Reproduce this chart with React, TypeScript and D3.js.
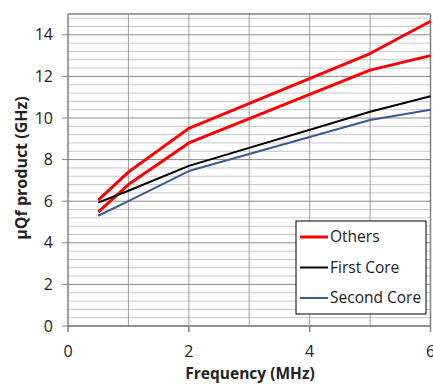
import React from "react";
import * as d3 from "d3";

const freq = [0.5, 1, 2, 5, 6];
const othersUpper = [6.05, 7.4, 9.5, 13.1, 14.65];
const othersLower = [5.48, 6.8, 8.8, 12.3, 13.0];
const firstCore = [5.93, 6.5, 7.7, 10.3, 11.05];
const secondCore = [5.3, 6.0, 7.45, 9.9, 10.4];
const xTicks = [0, 2, 4, 6];
const yTicks = [0, 2, 4, 6, 8, 10, 12, 14];
const legendLabels = ["Others", "First Core", "Second Core"];

const W = 433, H = 384;
const FONT = "'Open Sans', 'Noto Sans', sans-serif";

export default function App() {
  const x = d3.scaleLinear().domain([0, 6]).range([68, 430.5]);
  const y = d3.scaleLinear().domain([0, 15]).range([326, 14]);
  const line = d3.line<[number, number]>().x(d => x(d[0])).y(d => y(d[1]));
  const mk = (vals: number[]) => line(freq.map((f, i) => [f, vals[i]] as [number, number])) || "";

  const minorY = d3.range(0, 15.01, 0.4).filter(v => Math.abs(v / 2 - Math.round(v / 2)) > 1e-6);
  const vLines = d3.range(1, 6, 1);

  const series = [
    { vals: othersUpper, color: "#ff0000", w: 3 },
    { vals: othersLower, color: "#ff0000", w: 3 },
    { vals: firstCore, color: "#000000", w: 2 },
    { vals: secondCore, color: "#3a5a94", w: 2 },
  ];
  const legendColors = ["#ff0000", "#000000", "#3a5a94"];
  const legendW = [3, 2, 2];

  return (
    <svg width={W} height={H} style={{ position: "absolute", left: 0, top: 0, background: "#fff" }}>
      <rect x={0} y={0} width={W} height={H} fill="#fff" />
      {minorY.map(v => (
        <line key={"m" + v} x1={x(0)} x2={x(6)} y1={y(v)} y2={y(v)} stroke="#c8c8c8" strokeWidth={1} />
      ))}
      {vLines.map(v => (
        <line key={"v" + v} x1={x(v)} x2={x(v)} y1={y(15)} y2={y(0)} stroke="#a0a0a0" strokeWidth={1} />
      ))}
      {yTicks.map(v => (
        <line key={"M" + v} x1={x(0) - 6} x2={x(6)} y1={y(v)} y2={y(v)} stroke="#8a8a8a" strokeWidth={1} />
      ))}
      <line x1={x(0)} x2={x(6)} y1={y(15)} y2={y(15)} stroke="#808080" strokeWidth={1.5} />
      <line x1={x(6)} x2={x(6)} y1={y(15)} y2={y(0)} stroke="#808080" strokeWidth={1.5} />
      <line x1={x(0)} x2={x(0)} y1={y(15)} y2={y(0)} stroke="#808080" strokeWidth={1.5} />
      <line x1={x(0)} x2={x(6)} y1={y(0)} y2={y(0)} stroke="#808080" strokeWidth={1.5} />
      {xTicks.map(v => (
        <line key={"xt" + v} x1={x(v)} x2={x(v)} y1={y(0)} y2={y(0) + 6} stroke="#808080" strokeWidth={1.5} />
      ))}
      {yTicks.map(v => (
        <text key={"yl" + v} x={53} y={y(v)} dy="0.35em" textAnchor="end" fontFamily={FONT} fontSize={16} fill="#222">{v}</text>
      ))}
      {xTicks.map(v => (
        <text key={"xl" + v} x={x(v)} y={357} textAnchor="middle" fontFamily={FONT} fontSize={16} fill="#222">{v}</text>
      ))}
      {series.map((s, i) => (
        <path key={"s" + i} d={mk(s.vals)} fill="none" stroke={s.color} strokeWidth={s.w} strokeLinejoin="round" />
      ))}
      <rect x={296} y={221} width={130} height={93} fill="#fff" stroke="#000" strokeWidth={1} />
      {legendLabels.map((l, i) => (
        <g key={"lg" + i}>
          <line x1={300} x2={328} y1={237 + i * 30.5} y2={237 + i * 30.5} stroke={legendColors[i]} strokeWidth={legendW[i]} />
          <text x={330} y={237 + i * 30.5} dy="0.35em" fontFamily={FONT} fontSize={15.5} fill="#222">{l}</text>
        </g>
      ))}
      <text x={250} y={379} textAnchor="middle" fontFamily={FONT} fontSize={15.5} fontWeight="bold" fill="#222">Frequency (MHz)</text>
      <text transform={`translate(21,168) rotate(-90)`} textAnchor="middle" dy="0.35em" fontFamily={FONT} fontSize={16} fontWeight="bold" fill="#222">μQf product (GHz)</text>
    </svg>
  );
}
